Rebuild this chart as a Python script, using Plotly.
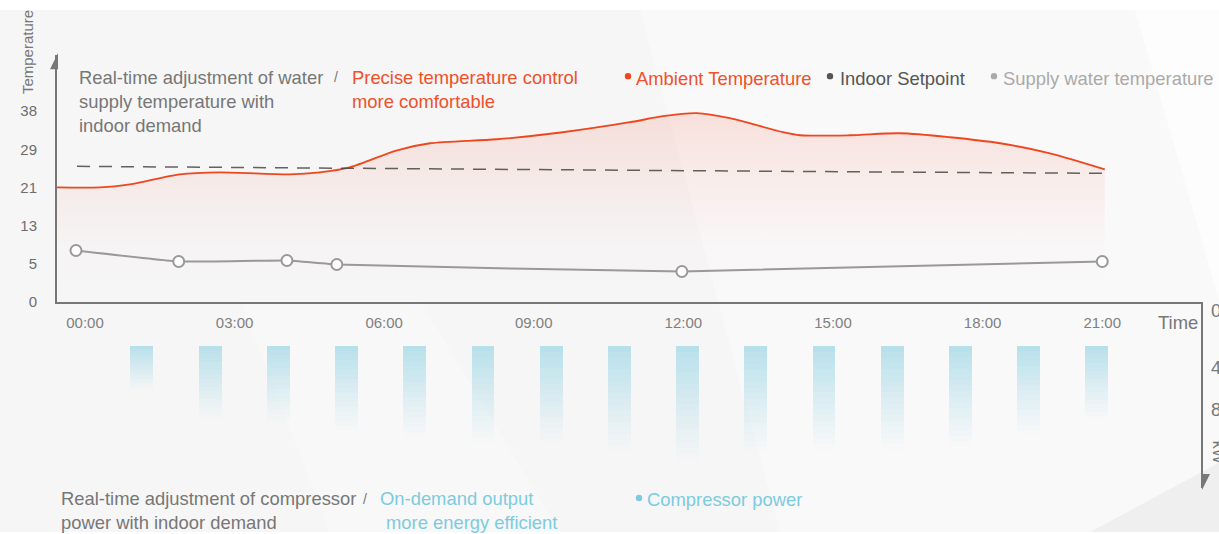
import plotly.graph_objects as go

W, H = 1219, 534
FIG_H = 543  # rendered page height that maps onto the 534-pixel picture


def px(x):
    return x / W


def py(y):
    return 1 - y / H


# ---------------- data ----------------
ambient_hours = [-0.56, 0.30, 0.90, 1.90, 2.71, 4.11, 4.71, 5.31, 6.26, 6.92, 8.26, 9.58,
                 10.93, 11.59, 12.27, 12.93, 14.0, 14.34, 15.34, 16.34, 17.35, 18.35, 19.35, 20.45]
ambient_temp = [22.8, 22.8, 23.4, 25.4, 25.8, 25.4, 25.8, 26.8, 30.2, 31.6, 32.4, 33.8,
                35.8, 37.0, 37.6, 36.6, 33.8, 33.2, 33.2, 33.6, 32.8, 31.6, 29.6, 26.4]

setpoint_hours = [-0.16, 4.9, 13.9, 20.45]
setpoint_temp = [27.0, 26.6, 26.0, 25.6]

supply_hours = [-0.18, 1.88, 4.05, 5.05, 11.97, 20.4]
supply_temp = [10.2, 8.0, 8.2, 7.4, 6.0, 8.0]

x_tick_vals = [0, 3, 6, 9, 12, 15, 18, 20.4]
x_tick_labels = ["00:00", "03:00", "06:00", "09:00", "12:00", "15:00", "18:00", "21:00"]
y_tick_vals = [0, 7.6, 15.2, 22.8, 30.4, 38]
y_tick_labels = ["0", "5", "13", "21", "29", "38"]

bar_slots = list(range(1, 16))
compressor_kw = [3.2, 5.2, 5.5, 6.0, 6.5, 6.9, 7.0, 7.5, 8.2, 7.6, 7.4, 7.4, 7.2, 6.3, 5.3]

# ---------------- colours ----------------
RED = "#f0461e"
RED_TXT = "#f0502a"
GREY_TXT = "#777777"
CYAN_TXT = "#7ccbe0"
FONT = "Liberation Sans, Arial, sans-serif"
TS = 18.4

fig = go.Figure()

# ambient temperature with gradient area
fig.add_trace(go.Scatter(
    x=ambient_hours, y=ambient_temp, mode="lines",
    line=dict(color=RED, width=1.8, shape="spline", smoothing=0.8),
    fill="tozeroy",
    fillgradient=dict(type="vertical", start=0, stop=38,
                      colorscale=[[0, "rgba(240,90,60,0)"], [0.3, "rgba(240,90,60,0.01)"],
                                  [0.55, "rgba(240,90,60,0.06)"], [0.8, "rgba(240,90,60,0.11)"],
                                  [1, "rgba(240,90,60,0.16)"]]),
    hoverinfo="skip", showlegend=False,
))

# indoor setpoint dashed
fig.add_trace(go.Scatter(
    x=setpoint_hours, y=setpoint_temp, mode="lines",
    line=dict(color="rgba(70,70,70,0.85)", width=1.5, dash="13px,9px"),
    hoverinfo="skip", showlegend=False,
))

# supply water temperature
fig.add_trace(go.Scatter(
    x=supply_hours, y=supply_temp, mode="lines+markers",
    line=dict(color="#999999", width=2, shape="spline", smoothing=0.3),
    marker=dict(symbol="circle", size=11, color="white", line=dict(color="#999999", width=2)),
    hoverinfo="skip", showlegend=False,
))

# compressor bars, stacked layers for vertical fade
N = 18
for k in range(N):
    a = max(0.0, 1 - (k + 0.5) / N) ** 1.1
    fig.add_trace(go.Bar(
        x=bar_slots, y=[v / N for v in compressor_kw],
        width=0.337, xaxis="x2", yaxis="y2",
        marker=dict(color=f"rgba(182,223,234,{a:.3f})", line=dict(width=0)),
        hoverinfo="skip", showlegend=False,
    ))

# ---------------- background shapes ----------------
shapes = [
    dict(type="rect", xref="paper", yref="paper", x0=0, x1=1, y0=py(531), y1=py(10),
         fillcolor="#f6f6f6", line=dict(width=0), layer="below"),
    dict(type="path", xref="paper", yref="paper", layer="below", line=dict(width=0),
         fillcolor="rgba(255,255,255,0.4)",
         path=f"M {px(640)} {py(10)} L {px(1219)} {py(10)} L {px(1219)} {py(531)} L {px(780)} {py(531)} Z"),
    dict(type="path", xref="paper", yref="paper", layer="below", line=dict(width=0),
         fillcolor="rgba(255,255,255,0.6)",
         path=f"M {px(1135)} {py(10)} L {px(1219)} {py(10)} L {px(1219)} {py(300)} Z"),
    dict(type="path", xref="paper", yref="paper", layer="below", line=dict(width=0),
         fillcolor="rgba(255,255,255,0.25)",
         path=f"M {px(240)} {py(300)} L {px(420)} {py(300)} L {px(560)} {py(531)} L {px(330)} {py(531)} Z"),
    dict(type="path", xref="paper", yref="paper", layer="below", line=dict(width=0),
         fillcolor="#efefef",
         path=f"M {px(1090)} {py(531)} L {px(1219)} {py(462)} L {px(1219)} {py(531)} Z"),
    # axis arrow heads
    dict(type="path", xref="paper", yref="paper", line=dict(width=0), fillcolor="#777777",
         path=f"M {px(58)} {py(53)} L {px(50)} {py(69)} L {px(58)} {py(69)} Z"),
    dict(type="path", xref="paper", yref="paper", line=dict(width=0), fillcolor="#777777",
         path=f"M {px(1202)} {py(489)} L {px(1202)} {py(473)} L {px(1210)} {py(473)} Z"),
]

# legend dots
for cx, cy, col in [(628, 76, RED), (830, 76, "#555555"), (994, 76, "#aaaaaa"), (639, 497, CYAN_TXT)]:
    r = 3.2
    shapes.append(dict(type="circle", xref="paper", yref="paper",
                       x0=px(cx - r), x1=px(cx + r), y0=py(cy + r), y1=py(cy - r),
                       fillcolor=col, line=dict(width=0)))

# ---------------- text ----------------
def ann(text, x, y, color, size=TS, angle=0, xanchor="left"):
    return dict(text=text, x=px(x), y=py(y), xref="paper", yref="paper",
                xanchor=xanchor, yanchor="middle", showarrow=False, textangle=angle,
                font=dict(family=FONT, size=size, color=color), borderpad=0)


annotations = [
    ann("Real-time adjustment of water", 78, 77, GREY_TXT),
    ann("/", 333, 77, GREY_TXT, size=14),
    ann("supply temperature with", 78, 101, GREY_TXT),
    ann("indoor demand", 78, 125, GREY_TXT),
    ann("Precise temperature control", 351, 77, RED_TXT),
    ann("more comfortable", 351, 101, RED_TXT),
    ann("Ambient Temperature", 635, 78, RED_TXT),
    ann("Indoor Setpoint", 839, 78, "#555555"),
    ann("Supply water temperature", 1002, 78, "#aaaaaa"),
    ann("Temperature", 27, 52, GREY_TXT, size=15, angle=-90, xanchor="center"),
    ann("Time", 1157, 322, GREY_TXT),
    ann("Real-time adjustment of compressor", 60, 498, GREY_TXT),
    ann("/", 362, 498, GREY_TXT, size=14),
    ann("power with indoor demand", 60, 522, GREY_TXT),
    ann("On-demand output", 379, 498, CYAN_TXT),
    ann("more energy efficient", 385, 522, CYAN_TXT),
    ann("Compressor power", 646, 499, CYAN_TXT),
    ann("0", 1210, 310, GREY_TXT),
    ann("4", 1210, 367, GREY_TXT),
    ann("8", 1210, 409, GREY_TXT),
    ann("kW", 1218, 452, GREY_TXT, size=16, angle=90, xanchor="center"),
]

fig.update_layout(
    width=W, height=FIG_H,
    margin=dict(l=0, r=0, t=0, b=0),
    paper_bgcolor="white",
    plot_bgcolor="rgba(0,0,0,0)",
    barmode="stack",
    bargap=0,
    showlegend=False,
    font=dict(family=FONT, color=GREY_TXT),
    xaxis=dict(domain=[px(57), px(1203)], range=[-0.561, 22.42], showline=True,
               linecolor="#777777", linewidth=2, showgrid=False, zeroline=False,
               tickvals=x_tick_vals, ticktext=x_tick_labels, ticks="",
               tickfont=dict(size=15, color="#808080"), ticklabelstandoff=6,
               anchor="y", fixedrange=True),
    yaxis=dict(domain=[py(301), py(55)], range=[0, 49.2], showline=True,
               linecolor="#777777", linewidth=2, showgrid=False, zeroline=False,
               tickvals=y_tick_vals, ticktext=y_tick_labels, ticks="",
               tickfont=dict(size=15, color="#6e6e6e"), ticklabelstandoff=15,
               anchor="x", fixedrange=True),
    xaxis2=dict(domain=[px(57), px(1203)], range=[-0.246, 16.557], visible=False,
                anchor="y2", fixedrange=True),
    yaxis2=dict(domain=[py(487), py(301)], range=[142 / 14, -44 / 14],
                showline=True, linecolor="#777777", linewidth=2, showgrid=False,
                zeroline=False, showticklabels=False, ticks="", anchor="free",
                position=px(1202), side="right", fixedrange=True),
    shapes=shapes,
    annotations=annotations,
)

page_fix = (
    "document.documentElement.style.margin='0';"
    "document.documentElement.style.overflow='hidden';"
    "document.body.style.margin='0';"
    "document.body.style.overflow='hidden';"
    "var gd=document.getElementById('{plot_id}');"
    "gd.style.lineHeight='0';"
    "gd.parentNode.style.lineHeight='0';"
)

fig.write_html("out.html", config={"displayModeBar": False}, post_script=page_fix)
